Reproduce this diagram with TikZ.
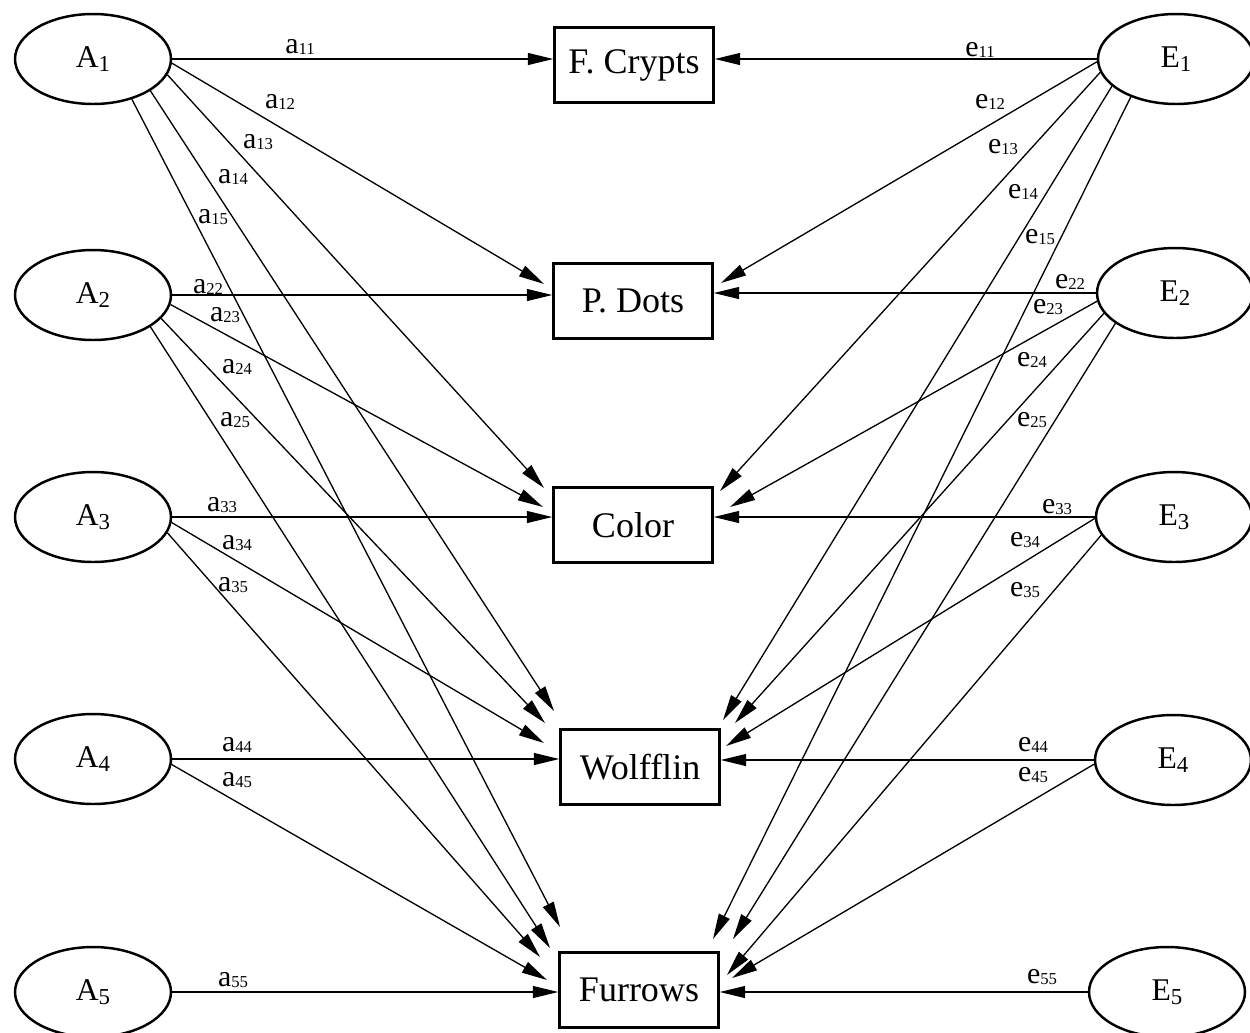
\documentclass[tikz,border=0pt]{standalone}
\usepackage{fontspec}
\setmainfont{Liberation Serif}
\usetikzlibrary{arrows.meta,shapes.geometric}
\newcommand\lab[2]{#1\raisebox{-0.8pt}{\fontsize{9.5}{9.5}\selectfont #2}}
\newcommand\vnm[2]{#1\raisebox{-2pt}{\fontsize{13}{13}\selectfont #2}}
\begin{document}
\begin{tikzpicture}[x=0.02cm,y=-0.02cm,
  latent/.style={ellipse, draw, line width=1.4pt, minimum width=3.12cm, minimum height=1.8cm, inner sep=0pt, font=\fontsize{18}{21}\selectfont},
  obs/.style={rectangle, draw, line width=1.4pt, minimum width=3.18cm, minimum height=1.5cm, inner sep=0pt, font=\fontsize{20.5}{23}\selectfont},
  conn/.style={line width=0.75pt, -{Triangle[length=14.5pt,width=6.8pt]}},
  wt/.style={inner sep=0pt, font=\fontsize{17}{20}\selectfont}]
\useasboundingbox (0,0) rectangle (1250,1032);

% latent variables
\node[latent] (A1) at (93,59)  {\vnm{A}{1}};
\node[latent] (A2) at (93,295) {\vnm{A}{2}};
\node[latent] (A3) at (93,517) {\vnm{A}{3}};
\node[latent] (A4) at (93,759) {\vnm{A}{4}};
\node[latent] (A5) at (93,992) {\vnm{A}{5}};
\node[latent] (E1) at (1176,59)  {\vnm{E}{1}};
\node[latent] (E2) at (1175,293) {\vnm{E}{2}};
\node[latent] (E3) at (1174,517) {\vnm{E}{3}};
\node[latent] (E4) at (1173,760) {\vnm{E}{4}};
\node[latent] (E5) at (1167,992) {\vnm{E}{5}};

% observed
\node[obs] (fc) at (634,65)  {F. Crypts};
\node[obs] (pd) at (633,301) {P. Dots};
\node[obs] (co) at (633,525) {Color};
\node[obs] (wo) at (640,767) {Wolfflin};
\node[obs] (fu) at (639,990) {Furrows};

% arrow tip coordinates
\coordinate (pd-a1) at (544,284);
\coordinate (co-a1) at (544,488);
\coordinate (wo-a1) at (554,711);
\coordinate (fu-a1) at (560,927);
\coordinate (co-a2) at (543,507);
\coordinate (wo-a2) at (545,723);
\coordinate (fu-a2) at (550,948);
\coordinate (wo-a3) at (544,743);
\coordinate (fu-a3) at (540,957);
\coordinate (fu-a4) at (547,980);
\coordinate (pd-e1) at (721,283);
\coordinate (co-e1) at (720,491);
\coordinate (wo-e1) at (723,720);
\coordinate (fu-e1) at (713,939);
\coordinate (co-e2) at (730,507);
\coordinate (wo-e2) at (735,723);
\coordinate (fu-e2) at (733,939);
\coordinate (wo-e3) at (726,746);
\coordinate (fu-e3) at (727,975);
\coordinate (fu-e4) at (732,978);

% left connectors
\draw[conn] (A1) -- (A1 -| fc.west);
\draw[conn] (A1.-3) -- (pd-a1);
\draw[conn] (A1.-12) -- (co-a1);
\draw[conn] (A1.-29) -- (wo-a1);
\draw[conn] (A1.-46) -- (fu-a1);
\draw[conn] (A2) -- (A2 -| pd.west);
\draw[conn] (A2.-7) -- (co-a2);
\draw[conn] (A2.-19) -- (wo-a2);
\draw[conn] (A2.-29) -- (fu-a2);
\draw[conn] (A3) -- (A3 -| co.west);
\draw[conn] (A3.-4) -- (wo-a3);
\draw[conn] (A3.-12) -- (fu-a3);
\draw[conn] (A4) -- (A4 -| wo.west);
\draw[conn] (A4.-4) -- (fu-a4);
\draw[conn] (A5) -- (A5 -| fu.west);

% right connectors
\draw[conn] (E1) -- (E1 -| fc.east);
\draw[conn] (E1.182) -- (pd-e1);
\draw[conn] (E1.190) -- (co-e1);
\draw[conn] (E1.203) -- (wo-e1);
\draw[conn] (E1.220) -- (fu-e1);
\draw[conn] (E2) -- (E2 -| pd.east);
\draw[conn] (E2.186) -- (co-e2);
\draw[conn] (E2.196) -- (wo-e2);
\draw[conn] (E2.207) -- (fu-e2);
\draw[conn] (E3) -- (E3 -| co.east);
\draw[conn] (E3.181) -- (wo-e3);
\draw[conn] (E3.194) -- (fu-e3);
\draw[conn] (E4) -- (E4 -| wo.east);
\draw[conn] (E4.183) -- (fu-e4);
\draw[conn] (E5) -- (E5 -| fu.east);

% weight labels
\node[wt] (la11) at (300,47)  {\lab{a}{11}};
\node[wt] (la12) at (280,102) {\lab{a}{12}};
\node[wt] (la13) at (258,142) {\lab{a}{13}};
\node[wt] (la14) at (233,177) {\lab{a}{14}};
\node[wt] (la15) at (213,217) {\lab{a}{15}};
\node[wt] (la22) at (208,287) {\lab{a}{22}};
\node[wt] (la23) at (225,315) {\lab{a}{23}};
\node[wt] (la24) at (237,367) {\lab{a}{24}};
\node[wt] (la25) at (235,420) {\lab{a}{25}};
\node[wt] (la33) at (222,505) {\lab{a}{33}};
\node[wt] (la34) at (237,543) {\lab{a}{34}};
\node[wt] (la35) at (233,585) {\lab{a}{35}};
\node[wt] (la44) at (237,745) {\lab{a}{44}};
\node[wt] (la45) at (237,780) {\lab{a}{45}};
\node[wt] (la55) at (233,980) {\lab{a}{55}};
\node[wt] (le11) at (980,50)   {\lab{e}{11}};
\node[wt] (le12) at (990,102)  {\lab{e}{12}};
\node[wt] (le13) at (1003,147) {\lab{e}{13}};
\node[wt] (le14) at (1023,192) {\lab{e}{14}};
\node[wt] (le15) at (1040,237) {\lab{e}{15}};
\node[wt] (le22) at (1070,282) {\lab{e}{22}};
\node[wt] (le23) at (1048,307) {\lab{e}{23}};
\node[wt] (le24) at (1032,360) {\lab{e}{24}};
\node[wt] (le25) at (1032,420) {\lab{e}{25}};
\node[wt] (le33) at (1057,507) {\lab{e}{33}};
\node[wt] (le34) at (1025,540) {\lab{e}{34}};
\node[wt] (le35) at (1025,590) {\lab{e}{35}};
\node[wt] (le44) at (1033,745) {\lab{e}{44}};
\node[wt] (le45) at (1033,775) {\lab{e}{45}};
\node[wt] (le55) at (1042,977) {\lab{e}{55}};
\end{tikzpicture}
\end{document}
